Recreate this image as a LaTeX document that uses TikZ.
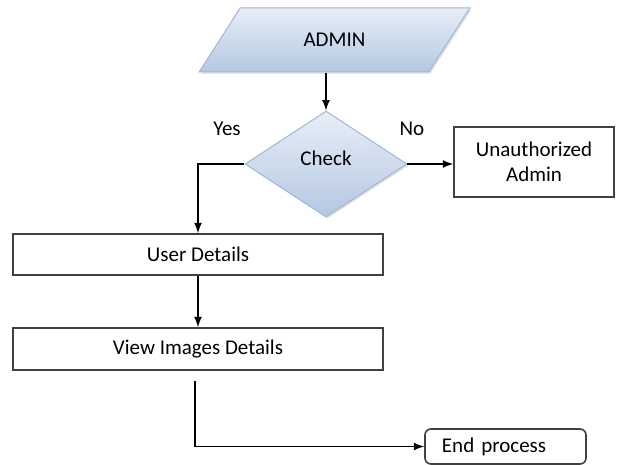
\documentclass[tikz,border=0pt]{standalone}
\usepackage{fontspec}
\setmainfont{Carlito}
\usepackage{tikz}
\usetikzlibrary{calc}
\usetikzlibrary{positioning, shapes.geometric, shadows}
\usetikzlibrary{arrows}

\definecolor{flowtop}{HTML}{E8EEF7}
\definecolor{flowbot}{HTML}{B4C8E2}
\definecolor{flowline}{HTML}{9DB7D8}

\begin{document}
\begin{tikzpicture}[
    x=0.5pt, y=-0.5pt,
    font=\fontsize{10.5}{12.6}\selectfont,
    shaded/.style={top color=flowtop, bottom color=flowbot, draw=flowline, line width=0.5pt,
        drop shadow={opacity=0.25, shadow xshift=0.8pt, shadow yshift=-0.8pt}},
    io/.style={shaded, trapezium, trapezium left angle=45, trapezium right angle=135,
        trapezium stretches=true, minimum width=135.5pt, minimum height=32pt, inner sep=0pt},
    decision/.style={shaded, diamond, minimum width=81pt, minimum height=53pt, inner sep=0pt},
    process/.style={rectangle, draw=black!75, line width=0.8pt, inner sep=0pt},
    terminal/.style={process, rounded corners=3pt, align=left, inner xsep=8.5pt,
        text width=63.5pt, minimum height=17.5pt},
    tag/.style={inner sep=1pt},
    edge/.style={line width=0.8pt, black, -latex},
]
    \useasboundingbox (0,0) rectangle (618,465);

    % --- Start ---
    \node[io] (admin) at (334.5,40) {ADMIN};

    % --- Decision ---
    \node[decision] (check) at (326,164) {\raisebox{1.2ex}{Check}};
    \node[tag] (yes) at (227,129) {Yes};
    \node[tag] (no)  at (412,129) {No};

    % --- Boxes ---
    \node[process, minimum width=80pt, minimum height=35pt, align=center]
        (unauth) at (534,162) {Unauthorized\\Admin};
    \node[process, minimum width=185pt, minimum height=20.5pt] (user) at (198,254.5) {User Details};
    \node[process, minimum width=185pt, minimum height=21pt] (view) at (198,349) {View Images Details};
    \node[terminal] (endp) at (505.5,446.5) {End process};

    % --- Edges ---
    \draw[edge] (check.north |- admin.south) -- (check.north);
    \draw[edge] (check.east) -- (check.east -| unauth.west);
    \draw[edge] (check.west) -| (user.north);
    \draw[edge] (user.south) -- (view.north);
    \draw[edge, shorten <=5pt] ([xshift=-1.5pt]view.south) |- (endp.west);

\end{tikzpicture}
\end{document}
